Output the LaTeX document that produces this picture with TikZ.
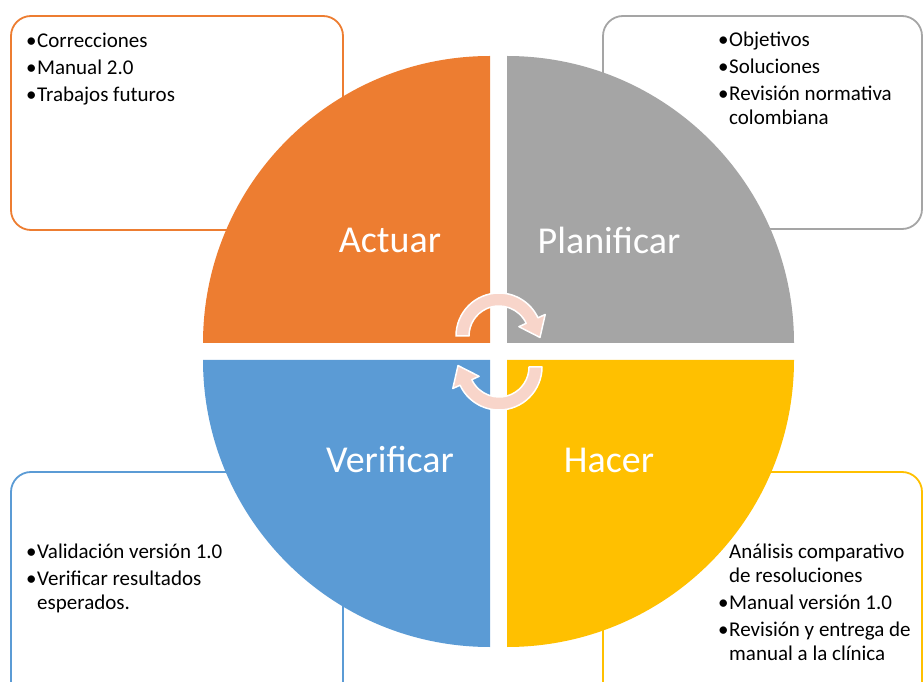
\documentclass[tikz,border=0pt]{standalone}
\usepackage{fontspec}
\setmainfont{Carlito}
\usetikzlibrary{calc}

\definecolor{actorange}{HTML}{ED7D31}
\definecolor{plangray}{HTML}{A5A5A5}
\definecolor{hacyellow}{HTML}{FFC000}
\definecolor{verblue}{HTML}{5B9BD5}
\definecolor{cyclepink}{HTML}{F8D5CA}

\newcommand{\bul}{\makebox[11pt][l]{\textbullet}}
\newcommand{\ind}{\hspace*{11pt}}

\tikzset{
    notebox/.style={line width=1.8pt, fill=white, rounded corners=20pt},
    notetext/.style={anchor=base west, inner sep=0pt, align=left,
        font=\fontsize{21}{24}\selectfont},
    phase/.style={text=white, font=\fontsize{38}{40}\selectfont},
    cyclearrow/.style={fill=cyclepink, draw=white, line width=1.5pt, line join=round}
}

\begin{document}
\begin{tikzpicture}[x=1pt, y=1pt]
            \useasboundingbox (0,0) rectangle (924,681);
            \clip (0,0) rectangle (924,681);

            \draw[notebox, draw=actorange] (11,451) rectangle (343,665);
            \draw[notebox, draw=plangray] (603,452) rectangle (922,665);
            \draw[notebox, draw=verblue] (11,-20) rectangle (343,209);
            \draw[notebox, draw=hacyellow] (603,-20) rectangle (922,209);

            \fill[actorange] (490,338) -- ++(180:287) arc[start angle=180, end angle=90, radius=287] -- cycle;
            \fill[plangray] (507,338) -- ++(90:287) arc[start angle=90, end angle=0, radius=287] -- cycle;
            \fill[verblue] (490,321) -- ++(180:287) arc[start angle=180, end angle=270, radius=287] -- cycle;
            \fill[hacyellow] (507,321) -- ++(0:287) arc[start angle=0, end angle=-90, radius=287] -- cycle;

            \coordinate (c1) at (499,345);
            \coordinate (c2) at (499,314);
            \draw[cyclearrow] ($(c1)+(180:43)$) arc[start angle=180, end angle=25, radius=43]
                -- ($(c1)+(25:51)$) -- ($(c1)+(-2:41)$) -- ($(c1)+(25:22)$) -- ($(c1)+(25:30)$)
                arc[start angle=25, end angle=180, radius=30] -- cycle;
            \draw[cyclearrow] ($(c2)+(0:43)$) arc[start angle=0, end angle=-155, radius=43]
                -- ($(c2)+(-155:51)$) -- ($(c2)+(178:41)$) -- ($(c2)+(-155:22)$) -- ($(c2)+(-155:30)$)
                arc[start angle=-155, end angle=0, radius=30] -- cycle;

            \node[phase] (actuar) at (390,441) {Actuar};
            \node[phase] (planificar) at (609,441) {Planificar};
            \node[phase] (verificar) at (390,221) {Verificar};
            \node[phase] (hacer) at (609,221) {Hacer};

            % base anchor sits on the last line
            \node[notetext] (actuartxt) at (26,579) {\bul Correcciones\\[3pt] \bul Manual 2.0\\[3pt] \bul Trabajos futuros};
            \node[notetext] (plantxt) at (718,556) {\bul Objetivos\\[3pt] \bul Soluciones\\[3pt] \bul Revisión normativa\\ \ind colombiana};
            \node[notetext] (vertxt) at (26,72) {\bul Validación versión 1.0\\[3pt] \bul Verificar resultados\\ \ind esperados.};
            \node[notetext] (hactxt) at (718,21) {\ind Análisis comparativo\\ \ind de resoluciones\\[3pt] \bul Manual versión 1.0\\[3pt] \bul Revisión y entrega de\\ \ind manual a la clínica};

        \end{tikzpicture}
\end{document}
